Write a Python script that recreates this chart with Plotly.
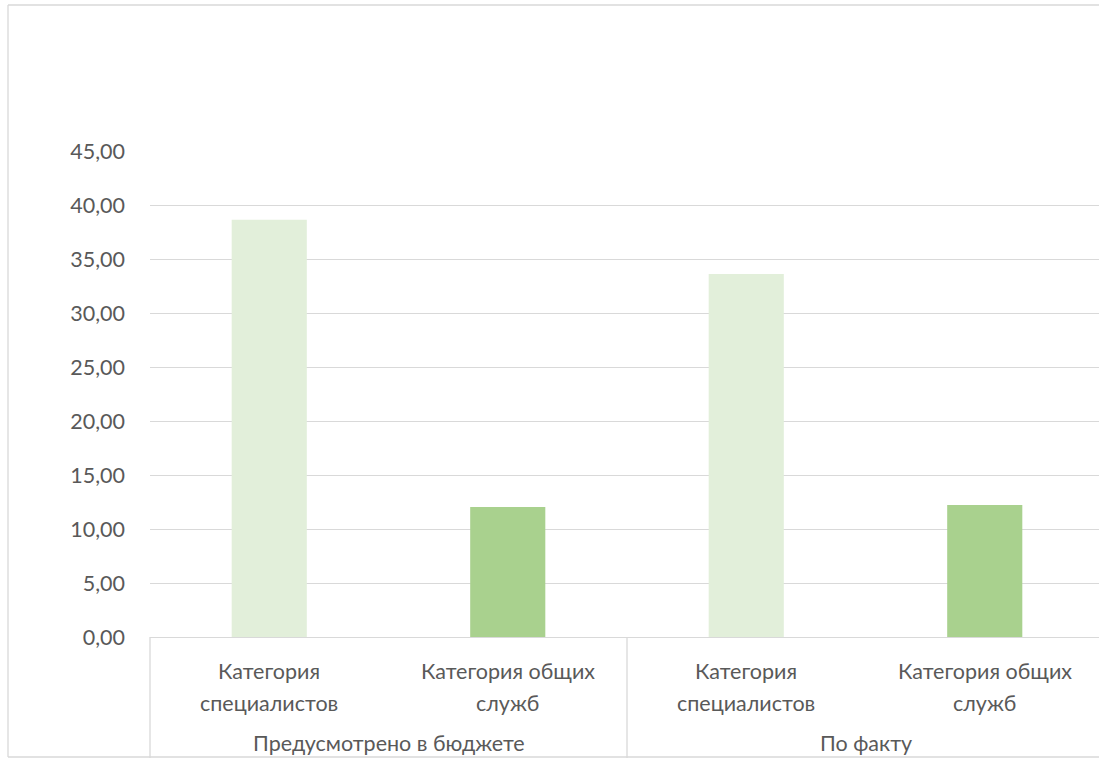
import plotly.graph_objects as go

# ---- data ----
groups = ["Предусмотрено в бюджете", "Предусмотрено в бюджете", "По факту", "По факту"]
subcats = ["Категория специалистов", "Категория общих служб",
           "Категория специалистов", "Категория общих служб"]
values = [38.68, 12.06, 33.67, 12.24]
group_labels = ["Предусмотрено в бюджете", "По факту"]
subcat_lines = [["Категория", "специалистов"], ["Категория общих", "служб"]]
y_ticks = [0, 5, 10, 15, 20, 25, 30, 35, 40, 45]
y_tick_text = ["0,00", "5,00", "10,00", "15,00", "20,00", "25,00", "30,00", "35,00", "40,00", "45,00"]

# ---- style ----
W, H = 1099, 758
FONT = "Lato"
FS = 21.5
TXT = "#595959"
GRID = "#D9D9D9"
bar_colors = ["#E2EFDA", "#A9D18E", "#E2EFDA", "#A9D18E"]

def py(pix):
    return (H - pix) / H

n = len(subcats)
# the chart's plot area runs a few pixels past the right edge of the picture
plot_left, plot_right_full = 150, 1104
cat_w = (plot_right_full - plot_left) / n
span = (W - plot_left) / cat_w
x_range = [-0.5, -0.5 + span]

def fx(idx):
    return (idx + 0.5) / span

fig = go.Figure()
fig.add_trace(go.Bar(
    x=[groups, subcats],
    y=values,
    marker=dict(color=bar_colors, line=dict(width=0)),
    hoverinfo="skip",
))

fig.update_layout(
    width=W, height=H,
    autosize=False,
    margin=dict(l=0, r=0, t=0, b=0, pad=0),
    paper_bgcolor="white", plot_bgcolor="white",
    showlegend=False,
    bargap=0.685,
    font=dict(family=FONT, size=FS, color=TXT),
    xaxis=dict(
        type="multicategory",
        domain=[plot_left / W, 1],
        range=x_range,
        showticklabels=False,
        showgrid=False,
        showline=True, linecolor=GRID, linewidth=1.3,
        ticks="", showdividers=False,
        automargin=False,
    ),
    yaxis=dict(
        domain=[py(637), py(151.7)],
        range=[0, 45],
        tickvals=y_ticks, ticktext=y_tick_text,
        showgrid=True, gridcolor=GRID, gridwidth=1.3,
        zeroline=False, showline=False, ticks="",
        ticklabelstandoff=24,
        automargin=False,
        tickfont=dict(family=FONT, size=FS, color=TXT),
    ),
)

shapes = []
# chart border: left, top and bottom edges (right edge lies outside the picture)
bl, bt, bb = 8 / W, py(5), py(757)
for (x0, y0, x1, y1) in [(bl, bb, bl, bt), (bl, bt, 1, bt), (bl, bb, 1, bb)]:
    shapes.append(dict(type="line", xref="paper", yref="paper",
                       x0=x0, y0=y0, x1=x1, y1=y1,
                       line=dict(color=GRID, width=1.3), layer="below"))
# category axis dividers (group boundaries)
for b in [-0.5, 1.5, 3.5]:
    shapes.append(dict(type="line", xref="x domain", yref="paper",
                       x0=fx(b), x1=fx(b), y0=py(758), y1=py(637),
                       line=dict(color=GRID, width=1.3)))
fig.update_layout(shapes=shapes)

ann = []
for i in range(n):
    lines = subcat_lines[i % 2]
    for j, t in enumerate(lines):
        ann.append(dict(xref="x domain", yref="paper", x=fx(i), y=py(671 + 32 * j),
                        text=t, showarrow=False, xanchor="center", yanchor="middle",
                        font=dict(family=FONT, size=FS, color=TXT)))
for g, lbl in enumerate(group_labels):
    ann.append(dict(xref="x domain", yref="paper", x=fx(2 * g + 0.5), y=py(743),
                    text=lbl, showarrow=False, xanchor="center", yanchor="middle",
                    font=dict(family=FONT, size=FS, color=TXT)))
fig.update_layout(annotations=ann)

fig.write_html("out.html", config={"displayModeBar": False},
               post_script="document.body.style.margin='0';document.body.style.padding='0';document.documentElement.style.overflow='hidden';")
